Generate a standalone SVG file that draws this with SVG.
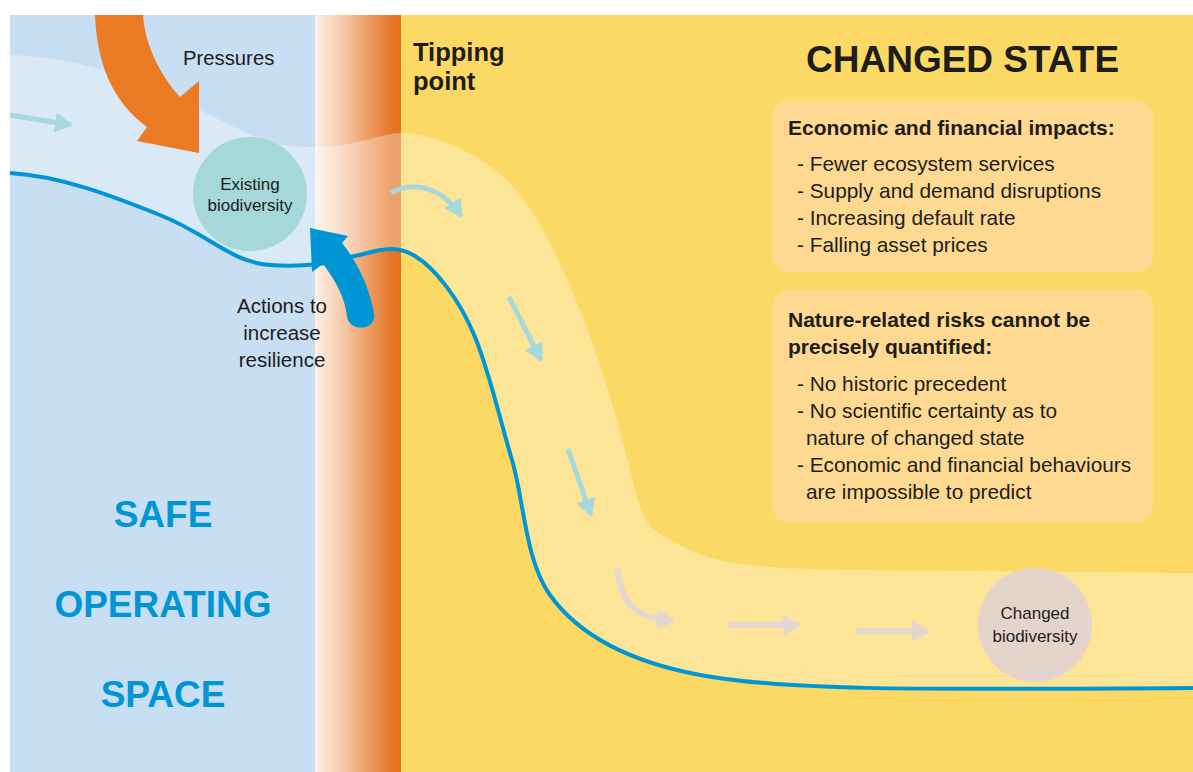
<svg xmlns="http://www.w3.org/2000/svg" width="1193" height="772" viewBox="0 0 1193 772">
<defs>
<style>
.t{font-family:"Liberation Sans",Arial,sans-serif;fill:#1d1d1b}
.b{font-weight:bold}
.blue{font-family:"Liberation Sans",Arial,sans-serif;font-weight:bold;fill:#0096d6;font-size:37px;text-anchor:middle}
.teal{fill:none;stroke:#a6d8dc;stroke-width:5}
.pink{fill:none;stroke:#e4d6d0;stroke-width:6}
.box{fill:#fdd991}
</style>
<linearGradient id="tip" x1="0" x2="1" y1="0" y2="0">
<stop offset="0" stop-color="#fdf1e8"/>
<stop offset="0.3" stop-color="#f5cdae"/>
<stop offset="0.6" stop-color="#eda067"/>
<stop offset="0.88" stop-color="#e5772a"/>
<stop offset="1" stop-color="#e37222"/>
</linearGradient>
<marker id="hT" viewBox="0 0 18 20" refX="16" refY="10" markerWidth="18" markerHeight="20" orient="auto" markerUnits="userSpaceOnUse"><path d="M0,0 L18,10 L0,20 Z" fill="#a6d8dc"/></marker>
<marker id="hP" viewBox="0 0 18 22" refX="16" refY="11" markerWidth="18" markerHeight="22" orient="auto" markerUnits="userSpaceOnUse"><path d="M0,0 L18,11 L0,22 Z" fill="#e4d6d0"/></marker>
<clipPath id="above"><path d="M10,173 C60,176 110,195 160,215 S230,262 270,265 S330,262 355,256 S395,244 415,256 S460,300 475,337 S500,420 512,460 S525,560 550,595 S620,660 700,675 S900,690 1193,688 L1193,0 L10,0 Z"/></clipPath>
</defs>
<rect x="0" y="0" width="1193" height="772" fill="#ffffff"/>
<g id="background">
<rect x="10" y="15" width="305" height="757" fill="#c8def2"/>
<rect x="315" y="15" width="86" height="757" fill="url(#tip)"/>
<rect x="401" y="15" width="792" height="757" fill="#fcd964"/>
<path clip-path="url(#above)" fill="#ffffff" fill-opacity="0.33" d="M10,55 C80,57 140,80 200,110 S270,147 315,147 S380,132 405,133 S475,150 505,178 S560,260 580,310 S615,410 630,470 S645,525 680,545 S760,568 850,570 L1193,573 L1193,772 L10,772 Z"/>
</g>
<g id="connectors">
<path d="M10,173 C60,176 110,195 160,215 S230,262 270,265 S330,262 355,256 S395,244 415,256 S460,300 475,337 S500,420 512,460 S525,560 550,595 S620,660 700,675 S900,690 1193,688" fill="none" stroke="#0096d6" stroke-width="4"/>
<path class="teal" d="M10,115 L71,125" marker-end="url(#hT)"/>
<path class="teal" d="M391,193 C410,182 440,184 461,216" marker-end="url(#hT)"/>
<path class="teal" d="M509,297 L541,360" marker-end="url(#hT)"/>
<path class="teal" d="M568,449 L591,515" marker-end="url(#hT)"/>
<path class="pink" d="M617,568 C621,598 630,619 673,620" marker-end="url(#hP)"/>
<path class="pink" d="M727,625 L799,625" marker-end="url(#hP)"/>
<path class="pink" d="M856,631 L928,631" marker-end="url(#hP)"/>
</g>
<g id="pressures">
<path d="M95,15 C97,60 110,100 147,127 L137,141 L199,153 L199,81 L180,97 C160,75 145,45 143,15 Z" fill="#ea7b24"/>
<text class="t" x="183" y="65" font-size="20.3">Pressures</text>
</g>
<g id="actions">
<path d="M310,228 L348,236 L342,243 C358,262 370,290 374,313 C377,332 348,332 347,316 C345,298 336,281 323,264 L312,272 Z" fill="#0096d6"/>
<text class="t" font-size="20.5" text-anchor="middle"><tspan x="282" y="313">Actions to</tspan><tspan x="282" y="340">increase</tspan><tspan x="282" y="367">resilience</tspan></text>
</g>
<g id="existing">
<circle cx="250" cy="194" r="57" fill="#a6d8da"/>
<text class="t" font-size="17" text-anchor="middle" fill="#333"><tspan x="250" y="190">Existing</tspan><tspan x="250" y="211">biodiversity</tspan></text>
</g>
<g id="changed">
<circle cx="1035" cy="625" r="57" fill="#e4d4cc"/>
<text class="t" font-size="17" text-anchor="middle"><tspan x="1035" y="619">Changed</tspan><tspan x="1035" y="642">biodiversity</tspan></text>
</g>
<g id="tipping">
<text class="t b" font-size="25.5"><tspan x="413" y="61">Tipping</tspan><tspan x="413" y="90">point</tspan></text>
</g>
<g id="title">
<text class="t b" x="806" y="72" font-size="37">CHANGED STATE</text>
</g>
<g id="safe">
<text class="blue" x="163" y="527">SAFE</text>
<text class="blue" x="163" y="617">OPERATING</text>
<text class="blue" x="163" y="707">SPACE</text>
</g>
<g id="impacts">
<rect class="box" x="772" y="100" width="381" height="172" rx="16"/>
<text class="t b" x="788" y="135" font-size="21">Economic and financial impacts:</text>
<text class="t" font-size="20.8"><tspan x="797" y="171">- Fewer ecosystem services</tspan><tspan x="797" y="198">- Supply and demand disruptions</tspan><tspan x="797" y="225">- Increasing default rate</tspan><tspan x="797" y="252">- Falling asset prices</tspan></text>
</g>
<g id="risks">
<rect class="box" x="772" y="290" width="381" height="232" rx="16"/>
<text class="t b" font-size="21"><tspan x="788" y="327">Nature-related risks cannot be</tspan><tspan x="788" y="354">precisely quantified:</tspan></text>
<text class="t" font-size="20.8"><tspan x="797" y="391">- No historic precedent</tspan><tspan x="797" y="418">- No scientific certainty as to</tspan><tspan x="806" y="445">nature of changed state</tspan><tspan x="797" y="472">- Economic and financial behaviours</tspan><tspan x="806" y="499">are impossible to predict</tspan></text>
</g>
</svg>
